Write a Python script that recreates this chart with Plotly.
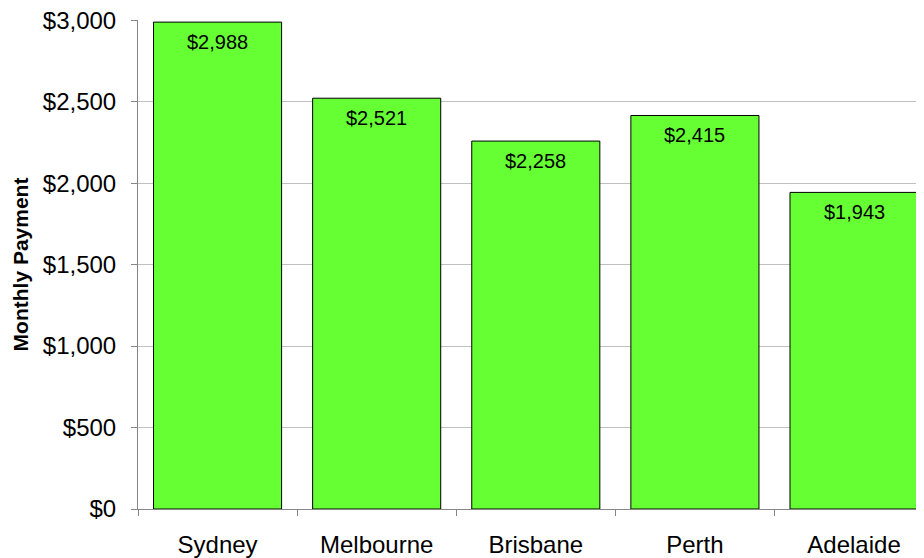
import plotly.graph_objects as go

cities = ["Sydney", "Melbourne", "Brisbane", "Perth", "Adelaide"]
payments = [2988, 2521, 2258, 2415, 1943]
y_ticks = [0, 500, 1000, 1500, 2000, 2500, 3000]
y_tick_labels = ["$0", "$500", "$1,000", "$1,500", "$2,000", "$2,500", "$3,000"]
bar_labels = ["${:,}".format(v) for v in payments]

fig = go.Figure()
fig.add_trace(go.Bar(
    x=cities, y=payments,
    marker=dict(color="#66FF33", line=dict(color="#000000", width=1)),
    hoverinfo="skip",
))

for c, v, t in zip(cities, payments, bar_labels):
    fig.add_annotation(
        x=c, y=v, text=t, showarrow=False, yanchor="middle", yshift=-20,
        font=dict(family="Liberation Sans Narrow, Arial Narrow, Liberation Sans", size=20, color="#000000"),
    )

# page body adds an 8px margin; offsets compensate for it
fig.update_layout(
    width=924, height=558,
    margin=dict(l=130, r=0, t=12, b=57),
    paper_bgcolor="white", plot_bgcolor="white",
    bargap=0.195,
    showlegend=False,
    font=dict(family="Liberation Sans, Arial", color="#000000"),
)
fig.update_xaxes(
    range=[-0.5, 4.49], automargin=False,
    showline=True, linecolor="#868686", linewidth=1,
    ticks="outside", tickson="boundaries", ticklen=6, tickcolor="#868686",
    tickfont=dict(family="Liberation Sans, Arial", size=24, color="#000000"),
    ticklabelstandoff=14,
    showgrid=False, zeroline=False,
)
fig.update_yaxes(
    range=[0, 3001], automargin=False,
    tickvals=y_ticks, ticktext=y_tick_labels,
    ticklabeloverflow="allow",
    showline=True, linecolor="#868686", linewidth=1,
    ticks="outside", ticklen=6, tickcolor="#868686",
    tickfont=dict(family="Liberation Sans, Arial", size=24, color="#000000"),
    ticklabelstandoff=10,
    showgrid=True, gridcolor="#c0c0c0", gridwidth=1,
    zeroline=False,
    title=dict(text="<b>Monthly Payment</b>", standoff=8,
               font=dict(family="Liberation Sans, Arial", size=21, color="#000000")),
)

fig.write_html("out.html")
